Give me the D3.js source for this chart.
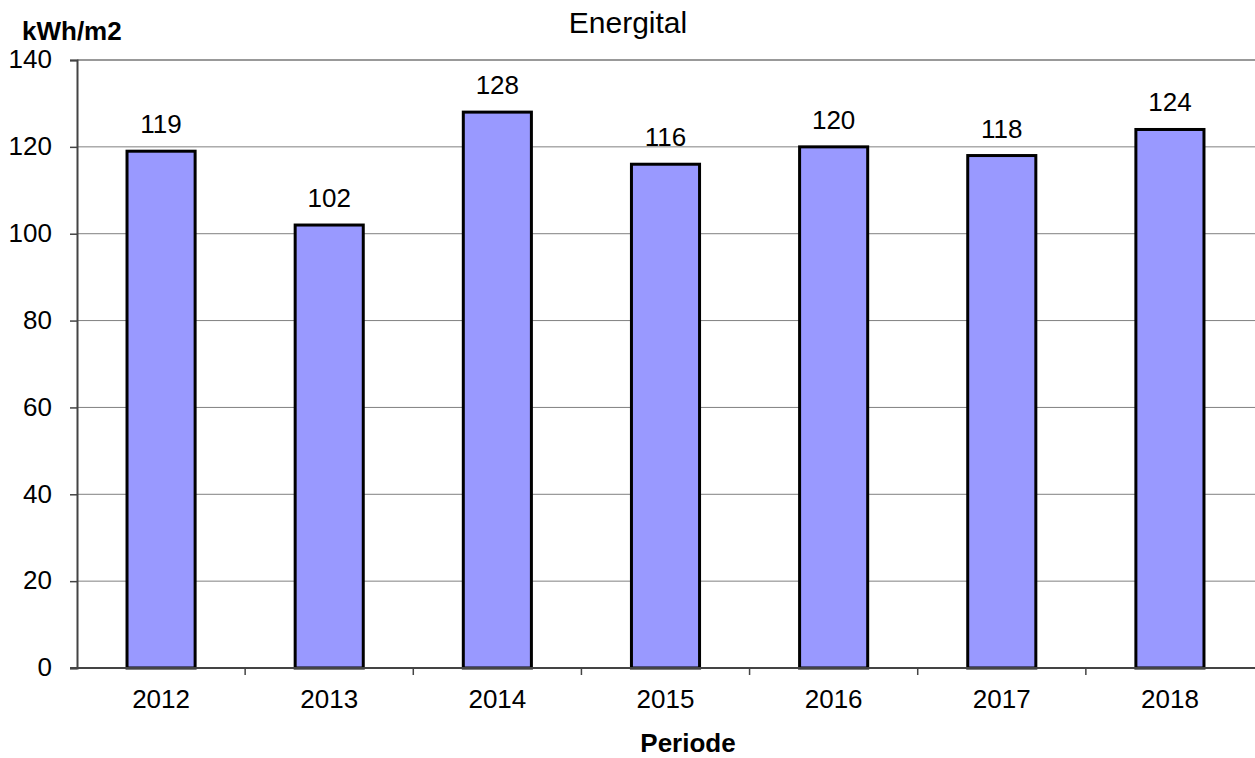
<!DOCTYPE html>
<html><head><meta charset="utf-8">
<script src="https://cdn.jsdelivr.net/npm/d3@7/dist/d3.min.js"></script>
<style>body{margin:0;background:#fff}svg{display:block}text{font-family:"Liberation Sans",Arial,sans-serif}</style>
</head><body>
<script>
const categories = ["2012","2013","2014","2015","2016","2017","2018"];
const values = [119,102,128,116,120,118,124];
const yTicks = [0,20,40,60,80,100,120,140];
const title = "Energital";
const yTitle = "kWh/m2";
const xTitle = "Periode";

const W=1255,H=758;
const m={l:77,r:1254,t:60,b:668};
const FS=26;
const svg=d3.select("body").append("svg").attr("width",W).attr("height",H);
const x=d3.scaleBand().domain(categories).range([m.l,m.r]).padding(0);
const y=d3.scaleLinear().domain([0,140]).range([m.b,m.t]);
const bw=x.bandwidth()*0.405;

// gridlines
svg.append("g").selectAll("line").data(yTicks.filter(d=>d>0)).join("line")
 .attr("x1",m.l).attr("x2",W).attr("y1",d=>y(d)).attr("y2",d=>y(d))
 .attr("stroke",d=>d===140?"#999":"#808080").attr("stroke-width",d=>d===140?2:1);

// y axis
const ya=svg.append("g").attr("transform",`translate(${m.l},0)`)
 .call(d3.axisLeft(y).tickValues(yTicks).tickSize(7).tickPadding(18));
ya.select(".domain").attr("stroke","#444").attr("stroke-width",2);
ya.selectAll(".tick line").attr("stroke","#444").attr("stroke-width",1.5);
ya.selectAll("text").attr("font-size",FS).attr("fill","#000").attr("font-family","Liberation Sans, Arial, sans-serif").attr("dy","0.3em");

// bars
svg.append("g").selectAll("rect").data(values).join("rect")
 .attr("x",(d,i)=>x(categories[i])+x.bandwidth()/2-bw/2).attr("width",bw)
 .attr("y",d=>y(d)).attr("height",d=>y(0)-y(d))
 .attr("fill","#9999ff").attr("stroke","#000").attr("stroke-width",3);

// x axis
const xa=svg.append("g").attr("transform",`translate(0,${m.b})`)
 .call(d3.axisBottom(x).tickSize(0).tickPadding(0));
xa.select(".domain").remove();
svg.append("line").attr("x1",m.l-7).attr("x2",W).attr("y1",m.b).attr("y2",m.b).attr("stroke","#444").attr("stroke-width",2);
svg.append("g").selectAll("line").data(categories.slice(1)).join("line")
 .attr("x1",d=>x(d)).attr("x2",d=>x(d)).attr("y1",m.b).attr("y2",m.b+7).attr("stroke","#444").attr("stroke-width",1.5);
xa.selectAll("text").attr("font-size",FS).attr("fill","#000").attr("font-family","Liberation Sans, Arial, sans-serif").attr("y",40).attr("dy",null);

// value labels
svg.append("g").selectAll("text").data(values).join("text")
 .attr("x",(d,i)=>x(categories[i])+x.bandwidth()/2).attr("y",d=>y(d)-18)
 .attr("text-anchor","middle").attr("font-size",FS).text(d=>d);

svg.append("text").attr("x",628).attr("y",33).attr("text-anchor","middle").attr("font-size",30).text(title);
svg.append("text").attr("x",22).attr("y",40).attr("font-size",FS).attr("font-weight","bold").text(yTitle);
svg.append("text").attr("x",688).attr("y",752).attr("text-anchor","middle").attr("font-size",FS).attr("font-weight","bold").text(xTitle);
</script>
</body></html>
